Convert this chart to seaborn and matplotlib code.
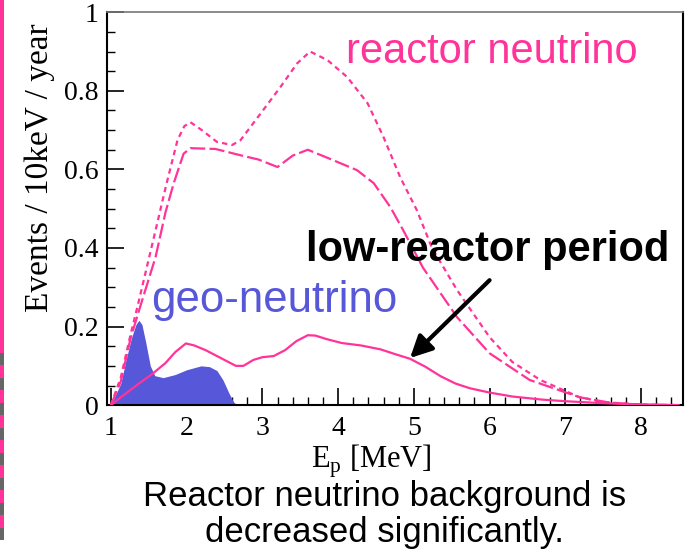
import numpy as np
import pandas as pd
import matplotlib
matplotlib.use("Agg")
import matplotlib.pyplot as plt
import seaborn as sns
from matplotlib.patches import Rectangle
from matplotlib.ticker import MultipleLocator

# ---- data ----
x_total = [1.0, 1.13, 1.26, 1.35, 1.58, 1.73, 1.88, 1.97, 2.05, 2.2, 2.4, 2.6, 2.71, 2.98, 3.24, 3.46,
           3.63, 3.86, 4.12, 4.39, 4.6, 4.82, 5.04, 5.24, 5.57, 6.0, 6.3, 6.67, 7.19, 7.5, 8.0, 8.5]
y_total = [0.0, 0.07, 0.18, 0.25, 0.437, 0.56, 0.675, 0.71, 0.72, 0.70, 0.67, 0.662, 0.674, 0.743, 0.81, 0.87,
           0.90, 0.878, 0.835, 0.768, 0.682, 0.58, 0.496, 0.40, 0.293, 0.173, 0.11, 0.064, 0.02, 0.008, 0.001, 0.0]

x_mid = [1.0, 1.13, 1.26, 1.37, 1.59, 1.72, 1.83, 1.96, 2.05, 2.38, 2.71, 2.95, 3.2, 3.4, 3.6, 3.94,
         4.25, 4.47, 4.69, 4.86, 5.12, 5.57, 6.0, 6.53, 7.19, 7.6, 8.0, 8.5]
y_mid = [0.0, 0.06, 0.17, 0.24, 0.377, 0.49, 0.565, 0.64, 0.654, 0.652, 0.636, 0.625, 0.606, 0.635, 0.65, 0.623,
         0.598, 0.565, 0.504, 0.445, 0.35, 0.224, 0.132, 0.064, 0.02, 0.006, 0.001, 0.0]

x_low = [1.0, 1.13, 1.37, 1.55, 1.72, 1.85, 1.99, 2.1, 2.25, 2.45, 2.65, 2.75, 2.88, 3.0, 3.15, 3.3, 3.45,
         3.6, 3.7, 3.85, 4.05, 4.3, 4.56, 4.75, 4.95, 5.15, 5.35, 5.55, 5.74, 6.0, 6.3, 6.7, 7.0, 7.5, 8.0, 8.5]
y_low = [0.0, 0.02, 0.055, 0.08, 0.107, 0.135, 0.157, 0.152, 0.14, 0.12, 0.10, 0.10, 0.115, 0.122, 0.125, 0.14, 0.163,
         0.178, 0.177, 0.168, 0.158, 0.152, 0.142, 0.13, 0.118, 0.098, 0.074, 0.055, 0.043, 0.032, 0.022, 0.014, 0.01,
         0.005, 0.002, 0.0]

x_geo = [1.0, 1.13, 1.2, 1.27, 1.33, 1.37, 1.41, 1.46, 1.52, 1.58, 1.69, 1.85, 2.0, 2.19, 2.3, 2.4,
         2.48, 2.56, 2.62, 2.67]
y_geo = [0.0, 0.055, 0.115, 0.17, 0.205, 0.216, 0.205, 0.16, 0.1, 0.075, 0.07, 0.078, 0.09, 0.10, 0.098, 0.088,
         0.064, 0.03, 0.008, 0.0]

x_ticks = [1, 2, 3, 4, 5, 6, 7, 8]
y_ticks = [0, 0.2, 0.4, 0.6, 0.8, 1]
y_tick_labels = ["0", "0.2", "0.4", "0.6", "0.8", "1"]

PINK = "#FF3399"
BLUE = "#5757D9"

sns.set_theme(style="white")
plt.rcParams['font.family'] = ['Liberation Sans', 'DejaVu Sans']
plt.rcParams['text.color'] = 'black'
plt.rcParams['axes.labelcolor'] = 'black'
plt.rcParams['xtick.color'] = 'black'
plt.rcParams['ytick.color'] = 'black'

fig = plt.figure(figsize=(6.91, 5.55), dpi=100)
ax = fig.add_axes([0.155, 0.270, 0.833, 0.708])

df_total = pd.DataFrame({"E": x_total, "v": y_total})
df_mid = pd.DataFrame({"E": x_mid, "v": y_mid})
df_low = pd.DataFrame({"E": x_low, "v": y_low})

ax.fill_between(x_geo, y_geo, 0, color=BLUE, linewidth=0, zorder=1)
sns.lineplot(data=df_total, x="E", y="v", ax=ax, color=PINK, lw=1.6, estimator=None, sort=False, zorder=3)
ax.lines[-1].set_dashes([2.4, 1.9])
sns.lineplot(data=df_mid, x="E", y="v", ax=ax, color=PINK, lw=1.6, estimator=None, sort=False, zorder=3)
ax.lines[-1].set_dashes([6.8, 1.9])
sns.lineplot(data=df_low, x="E", y="v", ax=ax, color=PINK, lw=1.6, estimator=None, sort=False, zorder=3)

ax.set_xlim(0.95, 8.55)
ax.set_ylim(0, 1)
ax.set_xticks(x_ticks)
ax.set_xticklabels([str(t) for t in x_ticks])
ax.set_yticks(y_ticks)
ax.set_yticklabels(y_tick_labels)
ax.xaxis.set_minor_locator(MultipleLocator(0.2))
ax.yaxis.set_minor_locator(MultipleLocator(0.05))
ax.tick_params(axis='both', which='major', direction='in', length=12, width=1.2, color='black',
               labelsize=20, bottom=True, left=True, top=False, right=False)
ax.tick_params(axis='both', which='minor', direction='in', length=6, width=1.0, color='black',
               bottom=True, left=True, top=False, right=False)
ax.tick_params(axis='x', pad=8)
ax.tick_params(axis='y', pad=6)
for lab in ax.get_xticklabels() + ax.get_yticklabels():
    lab.set_family('Liberation Serif')

for s in ['left', 'bottom', 'right']:
    ax.spines[s].set_color('black')
    ax.spines[s].set_linewidth(1.5)
ax.spines['top'].set_color('#777777')
ax.spines['top'].set_linewidth(1.2)

ax.set_xlabel(r"E$_\mathregular{p}$ [MeV]", fontsize=22, family='Liberation Serif')
ax.set_ylabel("Events / 10keV / year", fontsize=24, family='Liberation Serif')
ax.xaxis.set_label_coords(0.46, -0.097)
ax.yaxis.set_label_coords(-0.09, 0.605)

ax.text(4.1, 0.898, "reactor neutrino", color=PINK, fontsize=30, ha='left', va='center')
ax.text(3.57, 0.394, "low-reactor period", color='black', fontsize=30, fontweight='bold',
        ha='left', va='center')
ax.text(1.53, 0.267, "geo-neutrino", color=BLUE, fontsize=31.5, ha='left', va='center')
ax.annotate("", xy=(4.95, 0.12), xytext=(6.0, 0.318),
            arrowprops=dict(arrowstyle="-|>,head_length=1.1,head_width=0.55", color='black', lw=3,
                            shrinkA=0, shrinkB=0))

fig.text(0.557, 0.105, "Reactor neutrino background is", fontsize=25, ha='center', va='center')
fig.text(0.557, 0.040, "decreased significantly.", fontsize=25, ha='center', va='center')

# left border decoration (pink bar with gray dashes in its lower part)
W, H = 691.0, 555.0
fig.add_artist(Rectangle((0, 1 - 540 / H), 4 / W, 540 / H, transform=fig.transFigure,
                         facecolor=PINK, edgecolor='none'))
for k in range(8):
    top = 353 + 25 * k
    fig.add_artist(Rectangle((0, 1 - (top + 12) / H), 4 / W, 12 / H, transform=fig.transFigure,
                             facecolor='#666666', edgecolor='none'))

fig.savefig("out.png", dpi=100)
